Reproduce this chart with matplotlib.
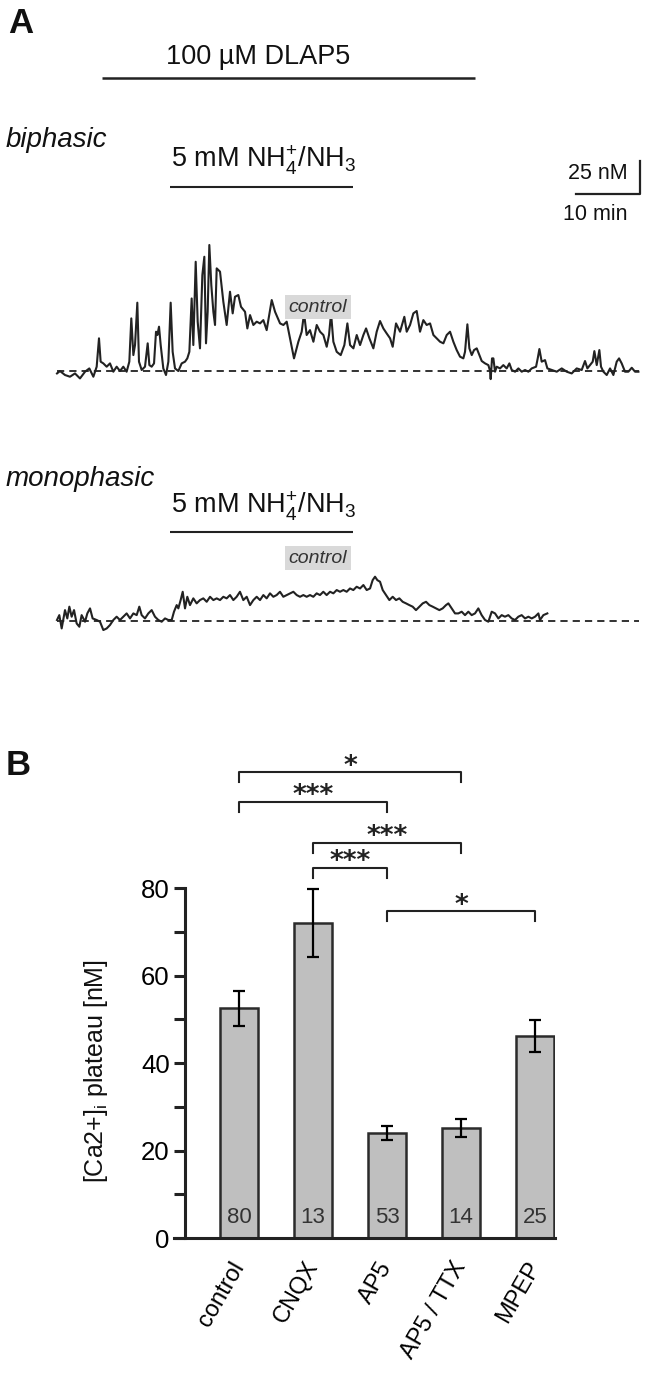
import matplotlib
matplotlib.use("Agg")
import matplotlib.pyplot as plt
import numpy as np

plt.rcParams['font.family'] = ['Liberation Sans', 'DejaVu Sans']
plt.rcParams['mathtext.fontset'] = 'custom'
plt.rcParams['mathtext.rm'] = 'Liberation Sans'

# ---- panel A: Ca2+ traces (time in min, [Ca2+]i in nM above baseline) ----
bi_t = [0.0, 0.47, 1.25, 2.03, 2.81, 3.59, 4.38, 5.05, 5.68, 6.20, 6.56, 6.82, 7.24, 7.76,
        8.28, 8.80, 9.32, 9.84, 10.36, 10.88, 11.30, 11.61, 11.93, 12.19, 12.55, 12.81,
        13.23, 13.75, 14.17, 14.43, 14.79, 15.16, 15.47, 15.68, 15.94, 16.20, 16.61, 17.03,
        17.40, 17.76, 18.07, 18.44, 18.96, 19.48, 20.00, 20.36, 20.68, 21.04, 21.30, 21.67,
        21.98, 22.34, 22.71, 23.02, 23.28, 23.54, 23.80, 24.11, 24.43, 24.69, 24.95, 25.47,
        25.99, 26.51, 27.03, 27.45, 27.81, 28.33, 28.75, 29.38, 29.74, 30.16, 30.68, 31.20,
        31.72, 32.24, 32.76, 33.55, 34.07, 34.85, 35.37, 35.89, 36.41, 37.03, 37.71, 38.23,
        38.60, 39.01, 39.53, 40.06, 40.58, 41.10, 41.62, 42.14, 42.50, 42.82, 43.18, 43.70,
        44.33, 44.90, 45.37, 45.79, 46.31, 46.83, 47.35, 47.87, 48.29, 48.81, 49.43, 49.95,
        50.47, 50.99, 51.51, 52.04, 52.45, 52.97, 53.60, 54.27, 54.64, 55.16, 55.68, 56.20,
        56.72, 57.24, 57.76, 58.29, 58.81, 59.33, 59.85, 60.37, 60.89, 61.41, 61.93, 62.45,
        62.97, 63.49, 63.75, 64.12, 64.43, 64.80, 65.16, 65.58, 66.00, 66.36, 66.88, 67.40,
        67.66, 67.76, 67.97, 68.18, 68.44, 68.70, 69.22, 69.74, 70.26, 70.68, 71.05, 71.57,
        72.09, 72.61, 73.13, 73.65, 74.17, 74.85, 75.11, 75.37, 75.73, 76.25, 76.62, 77.30,
        78.08, 78.86, 79.64, 80.42, 81.20, 81.98, 82.50, 82.87, 83.28, 83.70, 83.96, 84.33,
        84.74, 85.00, 85.37, 85.89, 86.41, 86.93, 87.45, 87.82, 88.23, 88.75, 89.27, 89.80,
        90.32, 90.84]
bi_ca = [-1.8, 0.0, -3.0, -4.3, -1.8, -5.6, -0.5, 2.0, -4.3, 3.3, 24.8, 7.1, 5.8, 3.3,
         5.8, -0.5, 3.3, 0.0, 3.3, -0.5, 7.1, 39.9, 12.1, 19.7, 51.8, 7.1,
         0.8, 3.3, 21.0, 4.5, 3.3, 5.8, 29.8, 27.3, 33.6, 19.7, 2.0, -3.0,
         7.1, 51.8, 14.6, 2.0, 0.0, 5.8, 7.1, 9.6, 14.6, 55.0, 19.7, 82.8,
         37.4, 17.2, 72.7, 86.6, 21.0, 44.9, 95.5, 65.1, 44.9, 34.9, 77.8, 75.3,
         52.5, 34.9, 60.1, 43.7, 56.3, 57.6, 48.7, 44.9, 32.3, 42.4, 34.9, 37.4,
         36.1, 38.6, 31.0, 53.8, 44.9, 36.1, 34.9, 37.4, 24.8, 9.6, 22.2, 29.8,
         43.7, 27.3, 31.0, 22.2, 34.9, 29.8, 27.3, 18.4, 27.3, 43.7, 22.2, 14.6,
         12.1, 19.7, 36.1, 19.7, 17.2, 27.3, 19.7, 27.3, 32.3, 24.8, 17.2, 29.8,
         37.9, 32.3, 28.5, 24.8, 18.4, 36.1, 29.8, 41.1, 29.8, 34.9, 43.7, 45.5,
         29.8, 38.6, 34.9, 36.1, 27.3, 24.8, 22.2, 21.0, 27.3, 29.8, 22.2, 15.9,
         10.9, 9.6, 14.6, 35.4, 17.2, 12.1, 15.9, 17.2, 12.1, 7.6, 5.8, 4.5,
         0.0, -6.1, 9.6, 9.6, -0.5, 3.3, 2.0, 4.5, 2.0, 5.8, 0.8, -0.5,
         2.0, -0.5, 0.8, -0.5, 2.0, 3.3, 9.6, 16.7, 7.1, 8.3, 2.0, 0.8,
         -0.5, 2.0, -0.5, -1.8, 2.0, 0.8, 7.6, 2.0, 4.5, 7.1, 15.1, 4.5,
         15.9, 3.3, -0.5, -3.0, 2.0, -3.0, 7.1, 9.6, 5.8, -0.5, -0.5, 2.5,
         -0.5, -0.5]

mono_t = [0.0, 0.36, 0.73, 1.25, 1.61, 1.93, 2.29, 2.66, 3.07, 3.49, 3.85, 4.38, 4.74, 5.16,
          5.57, 6.20, 6.72, 7.24, 7.76, 8.28, 8.80, 9.32, 9.84, 10.36, 10.88, 11.41, 11.93,
          12.45, 12.86, 13.23, 13.75, 14.27, 14.79, 15.31, 15.83, 16.35, 16.88, 17.40, 17.92,
          18.28, 18.70, 18.96, 19.32, 19.64, 20.00, 20.36, 20.78, 21.30, 21.82, 22.34, 22.86,
          23.39, 23.91, 24.43, 24.95, 25.47, 25.99, 26.51, 27.03, 27.55, 28.07, 28.59, 29.11,
          29.64, 30.16, 30.68, 31.20, 31.72, 32.24, 32.76, 33.28, 33.80, 34.32, 34.84, 35.36,
          35.89, 36.41, 36.93, 37.45, 37.97, 38.49, 39.01, 39.53, 40.05, 40.57, 41.09, 41.61,
          42.13, 42.66, 43.18, 43.70, 44.22, 44.74, 45.26, 45.78, 46.30, 46.82, 47.35, 47.87,
          48.39, 48.91, 49.32, 49.69, 50.05, 50.47, 50.89, 51.41, 51.93, 52.45, 52.97, 53.49,
          54.01, 54.53, 55.05, 55.57, 56.09, 56.62, 57.14, 57.66, 58.18, 58.70, 59.22, 59.74,
          60.26, 60.78, 61.15, 61.67, 62.19, 62.71, 63.23, 63.75, 64.27, 64.79, 65.31, 65.83,
          66.35, 66.88, 67.40, 67.92, 68.44, 68.96, 69.48, 69.99, 70.52, 71.04, 71.56, 72.08,
          72.60, 73.13, 73.65, 74.17, 74.69, 75.21, 75.47, 75.99, 76.61]
mono_ca = [0.8, 4.5, -5.6, 8.3, 2.0, 10.9, 3.3, 8.3, -1.8, -4.3, 4.5, -0.5, 5.8, 9.6,
           2.0, 0.8, -0.5, -6.8, -5.6, -3.0, 0.8, 3.3, 0.8, 3.3, 5.8, 2.0, 5.8,
           4.5, 10.9, 4.5, 2.0, 5.8, 8.3, 3.3, 0.8, -0.5, 2.0, 0.8, 0.8,
           7.1, 12.1, 9.6, 15.9, 22.2, 9.6, 18.4, 12.1, 17.2, 13.4, 15.9, 17.2,
           14.6, 18.4, 15.9, 17.2, 15.9, 18.4, 17.2, 19.7, 15.9, 18.4, 22.2, 15.9,
           18.4, 12.1, 15.9, 18.4, 15.9, 19.7, 17.2, 21.0, 18.4, 19.7, 22.2, 18.4,
           19.7, 21.0, 22.2, 19.7, 18.4, 19.7, 18.4, 19.7, 18.4, 21.0, 19.7, 22.2,
           19.7, 22.2, 21.0, 23.5, 22.2, 23.5, 22.2, 24.7, 23.5, 26.0, 24.7, 27.3,
           23.5, 24.7, 31.0, 33.6, 31.0, 29.8, 23.5, 19.7, 15.9, 18.4, 15.9, 17.2,
           14.6, 13.4, 12.1, 10.9, 8.3, 10.9, 13.4, 14.6, 12.1, 10.9, 9.6, 8.3,
           9.6, 12.1, 13.4, 9.6, 5.8, 5.8, 7.1, 4.5, 7.1, 4.5, 5.8, 9.6,
           4.5, 0.8, -0.5, 7.1, 5.8, 2.0, 4.5, 3.3, 4.5, 2.0, 0.8, 3.3,
           4.5, 2.0, 3.3, 2.0, 3.3, 5.8, 0.8, 4.5, 5.8]

mono_offset = -189.4          # vertical offset of the monophasic trace (nM)
dlap5_on, dlap5_off = 7.0, 65.3
nh4_on, nh4_off = 17.7, 46.3
baseline_end = 91.0
scale_min, scale_nm = 10, 25

# ---- panel B: plateau amplitudes ----
groups = ['control', 'CNQX', 'AP5', 'AP5 / TTX', 'MPEP']
plateau = [52.5, 72.0, 24.0, 25.2, 46.2]
sem = [4.1, 7.7, 1.5, 2.0, 3.7]
n_cells = [80, 13, 53, 14, 25]
# (group i, group j, bracket height, label)
sig = [(0, 3, 106.5, '*'), (0, 2, 99.7, '***'), (1, 3, 90.3, '***'),
       (1, 2, 84.6, '***'), (2, 4, 74.7, '*')]

ink = '#222222'
fig = plt.figure(figsize=(6.48, 13.78), dpi=100)

# ---------- A ----------
ax = fig.add_axes([0, 1 - 700 / 1378, 1, 700 / 1378])
ax.set_xlim(-8.906, 92.34)
ax.set_ylim(-249.2, 281.1)
ax.axis('off')

ax.plot(bi_t, bi_ca, color=ink, lw=1.5)
ax.plot(mono_t, np.array(mono_ca) + mono_offset, color=ink, lw=1.5)
for off in (0, mono_offset):
    ax.plot([0, baseline_end], [off, off], color=ink, lw=1.3, dashes=(4, 2.8))

ax.plot([dlap5_on, dlap5_off], [222, 222], color=ink, lw=1.8, solid_capstyle='butt')
ax.text(31.4, 232.6, '100 µM DLAP5', fontsize=19.5, ha='center', va='baseline', color='#111')

nh4_label = r'5 mM NH$_\mathregular{4}^\mathregular{+}$/NH$_\mathregular{3}$'
for line_y, text_y in ((139.4, 154.5), (mono_offset + 67.4, mono_offset + 81.8)):
    ax.plot([nh4_on, nh4_off], [line_y, line_y], color=ink, lw=1.5, solid_capstyle='butt')
    ax.text(32.3, text_y, nh4_label, fontsize=19.5, ha='center', va='baseline', color='#111')

ax.text(-8.1, 169.7, 'biphasic', fontsize=20, style='italic', ha='left', va='baseline', color='#111')
ax.text(-8.1, -87.1, 'monophasic', fontsize=20, style='italic', ha='left', va='baseline', color='#111')

for cy in (48.5, mono_offset + 47.7):
    ax.text(40.8, cy, 'control', fontsize=14, style='italic', ha='center', va='center',
            color='#333333', bbox=dict(facecolor='#d9d9d9', edgecolor='none', pad=2.5))

# scale bar
sx, sy = 91.1, 134.1
ax.plot([sx - scale_min, sx, sx], [sy, sy, sy + scale_nm], color=ink, lw=1.6)
ax.text(89.2, 150, '25 nM', fontsize=15.5, ha='right', va='center', color='#111')
ax.text(89.2, 118.9, '10 min', fontsize=15.5, ha='right', va='center', color='#111')

fig.text(8 / 648, 1 - 33 / 1378, 'A', fontsize=25, fontweight='bold', va='baseline', color='#111')
fig.text(6 / 648, 1 - 775 / 1378, 'B', fontsize=25, fontweight='bold', va='baseline', color='#111')

# ---------- B ----------
bx = fig.add_axes([174 / 648, 140 / 1378, 381 / 648, 481 / 1378])
x = np.arange(len(groups))
bx.bar(x, plateau, width=0.52, color='#bfbfbf', edgecolor='#2b2b2b', linewidth=1.8, zorder=2)
bx.errorbar(x, plateau, yerr=sem, fmt='none', ecolor='black', elinewidth=1.6,
            capsize=4.5, capthick=1.6, zorder=3)
for xi, n in zip(x, n_cells):
    bx.text(xi, 2.2, str(n), fontsize=16, ha='center', va='bottom', color='#333333', zorder=4)

for i, j, h, lab in sig:
    bx.plot([i, i, j, j], [h - 2.3, h, h, h - 2.3], color=ink, lw=1.5, clip_on=False)
    bx.text((i + j) / 2, h - 0.3, lab, fontsize=19, ha='center', va='baseline', color=ink,
            family='DejaVu Sans', fontweight='bold')

bx.set_xlim(-0.88, 4.27)
bx.set_ylim(0, 110)
for s in ('top', 'right'):
    bx.spines[s].set_visible(False)
bx.spines['left'].set_position(('data', -0.73))
bx.spines['left'].set_bounds(0, 80)
for s in ('left', 'bottom'):
    bx.spines[s].set_linewidth(2.2)
    bx.spines[s].set_color(ink)
bx.set_yticks([0, 20, 40, 60, 80])
bx.set_yticks(np.arange(10, 80, 20), minor=True)
bx.tick_params(axis='y', which='both', direction='out', length=8, width=2.2, color=ink,
               labelsize=18.5, pad=3)
bx.set_xticks(x)
bx.set_xticklabels(groups)
bx.tick_params(axis='x', length=0, pad=18, labelsize=17)
plt.setp(bx.get_xticklabels(), rotation=60, ha='right', va='center', rotation_mode='anchor')
bx.text(-0.205, 0.347, r'[Ca2+]$_\mathregular{i}$ plateau [nM]', transform=bx.transAxes,
        rotation=90, ha='center', va='center', fontsize=18, color='#111')

fig.savefig('out.png', dpi=100)
